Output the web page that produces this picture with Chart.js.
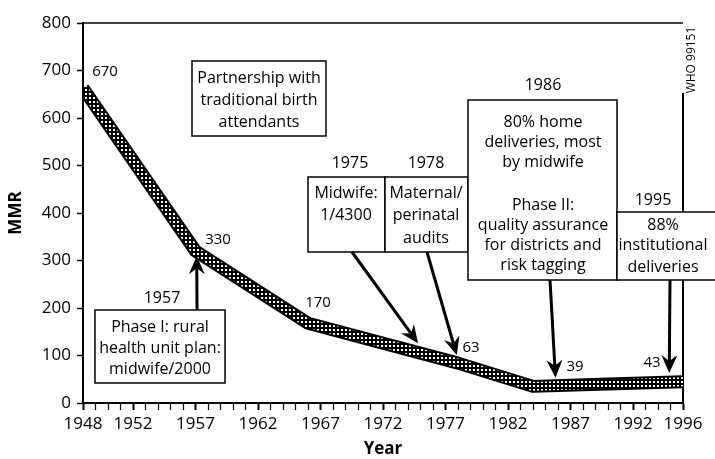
<!DOCTYPE html>
<html>
<head>
<meta charset="utf-8">
<script src="https://cdn.jsdelivr.net/npm/chart.js@4.4.1/dist/chart.umd.min.js"></script>
<style>
  body { margin: 0; background: #fff; }
</style>
</head>
<body>
<canvas id="chart" width="715" height="459"></canvas>
<script>
// MMR trend (band centre)
const years = [1948, 1957, 1966, 1978, 1984, 1990, 1996];
const mmr = [663, 320, 168, 84, 35, 40, 45];
const tickYears = [1948, 1952, 1957, 1962, 1967, 1972, 1977, 1982, 1987, 1992, 1996];

// printed figures next to the band
const printedValues = ['670', '330', '170', '63', '39', '43'];

// events: year label, where the arrow points (year, MMR)
const eventYears = ['1957', '1975', '1978', '1986', '1995'];
const eventTips = [[1957.1, 309], [1974.8, 126], [1977.9, 101], [1985.8, 53], [1994.9, 63]];

const FONT = "'Open Sans', sans-serif";

function bandPattern() {
    const c = document.createElement('canvas');
    c.width = 4; c.height = 4;
    const g = c.getContext('2d');
    g.fillStyle = '#000'; g.fillRect(0, 0, 4, 4);
    g.fillStyle = '#fff'; g.fillRect(1, 1, 2, 2);
    return g.createPattern(c, 'repeat');
}

// layout of the text boxes (pixels)
const boxes = [
    { r: [192, 61, 326, 136], cx: 259, lines: ['Partnership with', 'traditional birth', 'attendants'], ys: [78, 100, 122] },
    { r: [95, 310, 225, 383], cx: 160, lines: ['Phase I: rural', 'health unit plan:', 'midwife/2000'], ys: [327, 348, 369] },
    { r: [308, 177, 385, 252], cx: 346, lines: ['Midwife:', '1/4300'], ys: [193, 215] },
    { r: [385, 177, 468, 252], cx: 426, lines: ['Maternal/', 'perinatal', 'audits'], ys: [193, 215, 238] },
    { r: [468, 100, 617, 280], cx: 543, lines: ['80% home', 'deliveries, most', 'by midwife', 'Phase II:', 'quality assurance', 'for districts and', 'risk tagging'], ys: [122, 142, 162, 205, 225, 245, 265] },
    { r: [617, 212, 720, 280], cx: 663, lines: ['88%', 'institutional', 'deliveries'], ys: [225, 245, 267] }
];
const eventLabelPos = [[162, 298], [350, 163], [426, 163], [543, 85], [653, 200]];
const arrowStarts = [[197, 310], [352, 252], [427, 252], [550, 280], [670, 280]];
const valuePos = [[105, 72], [218, 240], [318, 303], [471, 348], [575, 367], [652, 363]];

function drawArrow(ctx, x1, y1, x2, y2) {
    const a = Math.atan2(y2 - y1, x2 - x1);
    const len = 18, hw = 8;
    const cos = Math.cos(a), sin = Math.sin(a);
    const bx = x2 - cos * len, by = y2 - sin * len;
    ctx.beginPath();
    ctx.moveTo(x1, y1);
    ctx.lineTo(bx + cos * 6, by + sin * 6);
    ctx.lineWidth = 3;
    ctx.stroke();
    ctx.beginPath();
    ctx.moveTo(x2, y2);
    ctx.lineTo(bx - sin * hw, by + cos * hw);
    ctx.lineTo(bx + cos * 6, by + sin * 6);
    ctx.lineTo(bx + sin * hw, by - cos * hw);
    ctx.closePath();
    ctx.fill();
}

const annotations = {
    id: 'annotations',
    beforeDatasetsDraw(chart) {
        const { ctx, chartArea: a } = chart;
        ctx.save();
        ctx.strokeStyle = '#000';
        ctx.lineWidth = 1.5;
        ctx.beginPath();
        ctx.moveTo(a.left, a.top);
        ctx.lineTo(a.right, a.top);
        ctx.stroke();
        ctx.lineWidth = 2;
        ctx.beginPath();
        ctx.moveTo(a.right, a.top + 70);
        ctx.lineTo(a.right, a.bottom);
        ctx.stroke();
        ctx.restore();
    },
    afterDatasetsDraw(chart) {
        const { ctx, chartArea: a } = chart;
        const xs = chart.scales.x, ys = chart.scales.y;
        ctx.save();
        ctx.fillStyle = '#000';
        ctx.strokeStyle = '#000';
        ctx.textAlign = 'center';
        ctx.textBaseline = 'middle';

        boxes.forEach(b => {
            const [x1, y1, x2, y2] = b.r;
            ctx.fillStyle = '#fff';
            ctx.fillRect(x1, y1, x2 - x1, y2 - y1);
            ctx.lineWidth = 1.5;
            ctx.strokeRect(x1, y1, x2 - x1, y2 - y1);
            ctx.fillStyle = '#000';
            ctx.font = '16px ' + FONT;
            b.lines.forEach((t, i) => ctx.fillText(t, b.cx, b.ys[i]));
        });

        ctx.font = '16px ' + FONT;
        eventYears.forEach((t, i) => ctx.fillText(t, eventLabelPos[i][0], eventLabelPos[i][1]));

        ctx.font = '15px ' + FONT;
        printedValues.forEach((t, i) => ctx.fillText(t, valuePos[i][0], valuePos[i][1]));

        eventTips.forEach((tip, i) => {
            drawArrow(ctx, arrowStarts[i][0], arrowStarts[i][1],
                xs.getPixelForValue(tip[0]), ys.getPixelForValue(tip[1]));
        });

        // figure reference
        ctx.translate(a.right + 9, 60);
        ctx.rotate(-Math.PI / 2);
        ctx.font = '12px ' + FONT;
        ctx.fillText('WHO 99151', 0, 0);
        ctx.restore();
    }
};

const points = years.map((x, i) => ({ x, y: mmr[i] }));

new Chart(document.getElementById('chart'), {
    type: 'line',
    data: {
        datasets: [
            // dotted fill drawn on top of the black outline
            { data: points, borderColor: bandPattern(), borderWidth: 9, pointRadius: 0, tension: 0, clip: 0, borderJoinStyle: 'round', order: 1 },
            { data: points, borderColor: '#000', borderWidth: 13, pointRadius: 0, tension: 0, clip: 0, borderJoinStyle: 'round', order: 2 }
        ]
    },
    options: {
        responsive: false,
        animation: false,
        layout: { padding: { top: 23, right: 32, left: 0, bottom: 0 } },
        plugins: { legend: { display: false }, tooltip: { enabled: false } },
        scales: {
            x: {
                type: 'linear', min: 1948, max: 1996,
                afterBuildTicks: s => {
                    s.ticks = [];
                    for (let y = 1948; y <= 1996; y++) s.ticks.push({ value: y });
                },
                ticks: {
                    autoSkip: false, maxRotation: 0, padding: 4, color: '#000',
                    font: { family: FONT, size: 17 },
                    callback: v => tickYears.includes(v) ? String(v) : ''
                },
                grid: {
                    drawOnChartArea: false, color: '#000', tickLength: 7,
                    tickWidth: c => tickYears.includes(c.tick && c.tick.value) ? 2 : 1.2
                },
                border: { color: '#000', width: 2 },
                title: { display: true, text: 'Year', color: '#000', font: { family: FONT, size: 17, weight: 'bold' }, padding: { top: 0, bottom: 0 } },
                afterFit: s => { s.height = 56; }
            },
            y: {
                min: 0, max: 800,
                ticks: { stepSize: 100, padding: 6, color: '#000', font: { family: FONT, size: 17 } },
                grid: { drawOnChartArea: false, color: '#000', tickLength: 6, tickWidth: 1.5 },
                border: { color: '#000', width: 2 },
                title: { display: true, text: 'MMR', color: '#000', font: { family: FONT, size: 17, weight: 'bold' }, padding: { top: 6, bottom: 0 } },
                afterFit: s => { s.width = 83; }
            }
        }
    },
    plugins: [annotations]
});
</script>
</body>
</html>
